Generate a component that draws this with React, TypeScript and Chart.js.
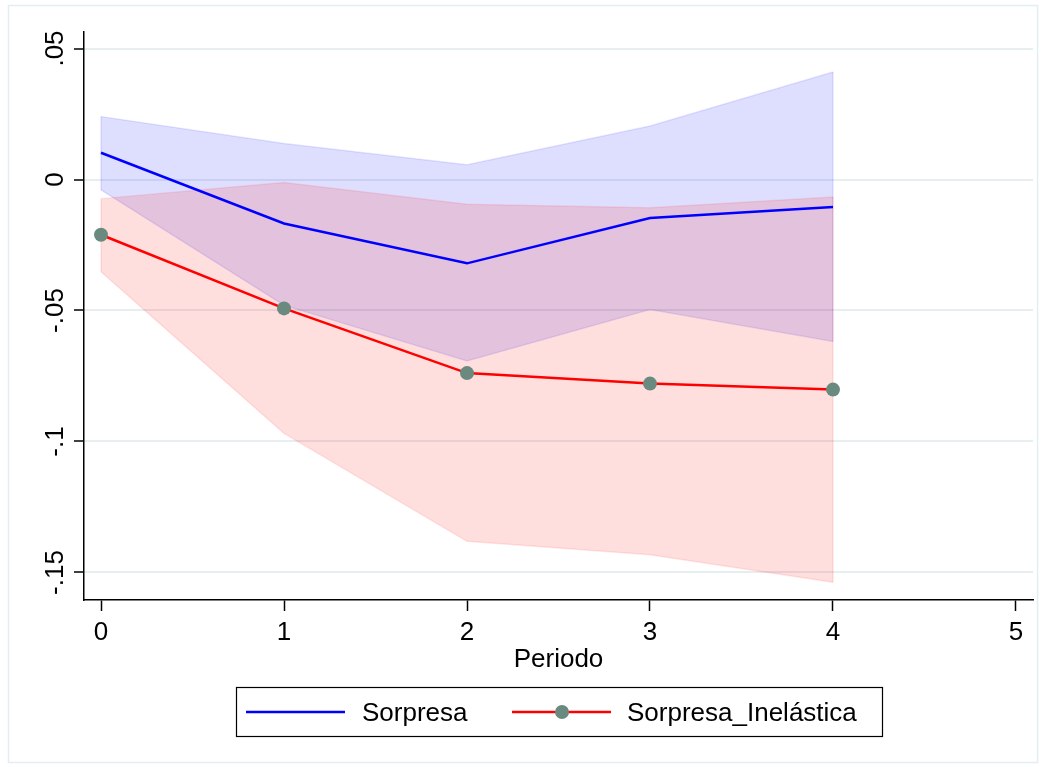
import React, { useEffect, useRef } from 'react';
import { Chart, registerables } from 'chart.js';

Chart.register(...registerables);

const periods = [0, 1, 2, 3, 4];
const xTicks = [0, 1, 2, 3, 4, 5];
const yTicks = [-0.15, -0.1, -0.05, 0, 0.05];
const yTickLabels = ['-.15', '-.1', '-.05', '0', '.05'];

const sorpresa = [0.0102, -0.0168, -0.032, -0.0147, -0.0105];
const sorpresaUpper = [0.024, 0.0137, 0.0056, 0.0204, 0.041];
const sorpresaLower = [-0.004, -0.048, -0.0693, -0.0496, -0.0618];

const inelastica = [-0.0211, -0.0492, -0.0739, -0.0779, -0.0802];
const inelasticaUpper = [-0.0073, -0.0011, -0.0094, -0.0108, -0.0067];
const inelasticaLower = [-0.0352, -0.0969, -0.1381, -0.1432, -0.1537];

const legendLabels = ['Sorpresa', 'Sorpresa_Inelástica'];
const xTitle = 'Periodo';

const FONT = '"Liberation Sans", Arial, sans-serif';
const BLUE = '#0000ff';
const RED = '#ff0000';
const MARKER = '#6b8a7f';
const BLUE_FILL = 'rgba(0,0,255,0.13)';
const BLUE_EDGE = 'rgba(0,0,255,0.10)';
const RED_FILL = 'rgba(255,0,0,0.13)';
const RED_EDGE = 'rgba(255,0,0,0.10)';

export default function App() {
  const ref = useRef<HTMLCanvasElement>(null);

  useEffect(() => {
    document.body.style.margin = '0';
    const pts = (arr: number[]) => periods.map((p, i) => ({ x: p, y: arr[i] }));
    const edges = (u: number[], l: number[]) => {
      const last = periods.length - 1;
      return [
        { x: periods[0], y: u[0] },
        { x: periods[0], y: l[0] },
        { x: periods[1], y: null },
        { x: periods[last], y: u[last] },
        { x: periods[last], y: l[last] },
      ];
    };

    const overlay = {
      id: 'overlay',
      afterDraw(chart: any) {
        const ctx = chart.ctx;
        const xs = chart.scales.x;
        const ys = chart.scales.y;
        const area = chart.chartArea;
        ctx.save();
        // outer frame
        ctx.strokeStyle = '#e4edf0';
        ctx.lineWidth = 1.5;
        ctx.strokeRect(8.5, 5.5, 1029, 757);

        ctx.fillStyle = '#000';
        ctx.font = `26px ${FONT}`;
        // x tick labels
        ctx.textAlign = 'center';
        ctx.textBaseline = 'alphabetic';
        xTicks.forEach((v) => {
          ctx.fillText(String(v), xs.getPixelForValue(v), 640);
        });
        // y tick labels (rotated)
        yTicks.forEach((v, i) => {
          ctx.save();
          ctx.translate(63, ys.getPixelForValue(v));
          ctx.rotate(-Math.PI / 2);
          ctx.textAlign = 'center';
          ctx.textBaseline = 'alphabetic';
          ctx.fillText(yTickLabels[i], 0, 0);
          ctx.restore();
        });
        // axis title
        ctx.textAlign = 'center';
        ctx.fillText(xTitle, (area.left + area.right) / 2, 667);

        // legend
        ctx.strokeStyle = '#000';
        ctx.lineWidth = 1.2;
        ctx.strokeRect(236.5, 687.5, 646, 49);
        const ly = 712;
        ctx.lineWidth = 2.5;
        ctx.strokeStyle = BLUE;
        ctx.beginPath();
        ctx.moveTo(246, ly);
        ctx.lineTo(345, ly);
        ctx.stroke();
        ctx.strokeStyle = RED;
        ctx.beginPath();
        ctx.moveTo(512, ly);
        ctx.lineTo(611, ly);
        ctx.stroke();
        ctx.fillStyle = MARKER;
        ctx.beginPath();
        ctx.arc(562, ly, 7, 0, Math.PI * 2);
        ctx.fill();
        ctx.fillStyle = '#000';
        ctx.textAlign = 'left';
        ctx.fillText(legendLabels[0], 362, 721);
        ctx.fillText(legendLabels[1], 627, 721);
        ctx.restore();
      },
    };

    const chart = new Chart(ref.current as HTMLCanvasElement, {
      type: 'line',
      data: {
        datasets: [
          {
            label: 'sorpresaUpper',
            data: pts(sorpresaUpper),
            fill: '+1',
            backgroundColor: BLUE_FILL,
            borderColor: BLUE_EDGE,
            borderWidth: 1.5,
            pointRadius: 0,
            order: 6,
          },
          {
            label: 'sorpresaLower',
            data: pts(sorpresaLower),
            fill: false,
            borderColor: BLUE_EDGE,
            borderWidth: 1.5,
            pointRadius: 0,
            order: 6,
          },
          {
            label: 'sorpresaEdges',
            data: edges(sorpresaUpper, sorpresaLower),
            fill: false,
            borderColor: BLUE_EDGE,
            borderWidth: 1.5,
            pointRadius: 0,
            spanGaps: false,
            order: 6,
          },
          {
            label: 'inelasticaUpper',
            data: pts(inelasticaUpper),
            fill: '+1',
            backgroundColor: RED_FILL,
            borderColor: RED_EDGE,
            borderWidth: 1.5,
            pointRadius: 0,
            order: 4,
          },
          {
            label: 'inelasticaLower',
            data: pts(inelasticaLower),
            fill: false,
            borderColor: RED_EDGE,
            borderWidth: 1.5,
            pointRadius: 0,
            order: 4,
          },
          {
            label: 'inelasticaEdges',
            data: edges(inelasticaUpper, inelasticaLower),
            fill: false,
            borderColor: RED_EDGE,
            borderWidth: 1.5,
            pointRadius: 0,
            spanGaps: false,
            order: 4,
          },
          {
            label: legendLabels[0],
            data: pts(sorpresa),
            fill: false,
            borderColor: BLUE,
            borderWidth: 2.5,
            pointRadius: 0,
            order: 1,
          },
          {
            label: legendLabels[1],
            data: pts(inelastica),
            fill: false,
            borderColor: RED,
            borderWidth: 2.5,
            pointRadius: 7,
            pointBackgroundColor: MARKER,
            pointBorderWidth: 0,
            pointBorderColor: MARKER,
            order: 0,
          },
        ] as any,
      },
      options: {
        responsive: false,
        animation: false,
        devicePixelRatio: 1,
        layout: { padding: { top: 32, right: 12, left: 0, bottom: 0 } },
        elements: { line: { tension: 0 } },
        plugins: {
          legend: { display: false },
          tooltip: { enabled: false },
        },
        scales: {
          x: {
            type: 'linear',
            min: -0.0929,
            max: 5.0929,
            afterBuildTicks: (s: any) => {
              s.ticks = xTicks.map((v) => ({ value: v }));
            },
            afterFit: (s: any) => {
              s.height = 167;
            },
            ticks: { display: false },
            grid: {
              drawOnChartArea: false,
              drawTicks: true,
              tickLength: 11,
              tickColor: '#000',
              tickWidth: 1.5,
            },
            border: { display: true, color: '#000', width: 1.5 },
          },
          y: {
            type: 'linear',
            min: -0.1605,
            max: 0.0563,
            afterBuildTicks: (s: any) => {
              s.ticks = yTicks.map((v) => ({ value: v }));
            },
            afterFit: (s: any) => {
              s.width = 84;
            },
            ticks: { display: false },
            grid: {
              color: '#e6eef0',
              lineWidth: 2,
              drawTicks: true,
              tickLength: 10,
              tickColor: '#000',
              tickWidth: 1.5,
            },
            border: { display: true, color: '#000', width: 1.5 },
          },
        },
      } as any,
      plugins: [overlay],
    });
    return () => chart.destroy();
  }, []);

  return (
    <div style={{ position: 'absolute', left: 0, top: 0, width: 1045, height: 767, background: '#fff' }}>
      <canvas ref={ref} width={1045} height={767} style={{ width: 1045, height: 767, display: 'block' }} />
    </div>
  );
}
